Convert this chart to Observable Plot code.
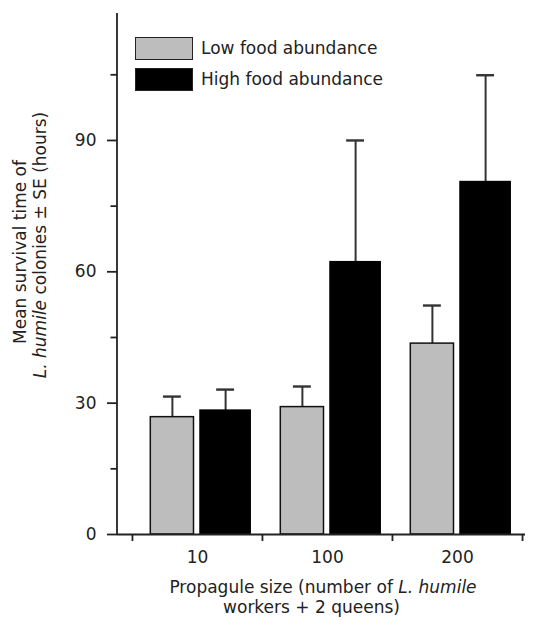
<!DOCTYPE html>
<html><head><meta charset="utf-8">
<script src="https://cdn.jsdelivr.net/npm/d3@7"></script>
<script src="https://cdn.jsdelivr.net/npm/@observablehq/plot@0.6"></script>
<style>
body{margin:0;background:#fff;}
#wrap{position:relative;width:533px;height:621px;font-family:"DejaVu Sans",sans-serif;color:#222;}
.t{position:absolute;white-space:nowrap;font-size:17px;line-height:1;}
.sw{position:absolute;box-sizing:border-box;}
</style></head><body><div id="wrap"></div>
<script>
// ---- data ----
const sizes = ["10", "100", "200"];
const foods = ["Low food abundance", "High food abundance"];
const lowMean = [26.8, 29.1, 43.6];
const lowSE = [4.7, 4.7, 8.7];
const highMean = [28.3, 62.2, 80.5];
const highSE = [4.8, 27.8, 24.4];
const colors = ["#bdbdbd", "#000000"];
const yMajorTicks = [0, 30, 60, 90];
const yMinorTicks = [15, 45, 75, 105];
const yDomain = [0, 119];

const rows = [];
sizes.forEach((s, i) => {
  rows.push({size: s, food: foods[0], mean: lowMean[i], se: lowSE[i]});
  rows.push({size: s, food: foods[1], mean: highMean[i], se: highSE[i]});
});

// ---- layout ----
const W = 533, H = 621, mL = 117, mT = 13, mR = 8, mB = 87;
const xRange = [131.7, 522];
const bw = (xRange[1] - xRange[0]) / sizes.length;
// bar placement inside each category band: [left inset, right inset]
const barInsets = [[18.3, 68.5], [68, 11.8]];
const capHalf = 9;
const ink = "#222";
const fs = 17;
const base = 0.846 * fs; // baseline offset from top of a line-height:1 box

const marks = [];
foods.forEach((f, k) => {
  const data = rows.filter(d => d.food === f);
  const [il, ir] = barInsets[k];
  const center = (il + (bw - ir)) / 2;
  marks.push(Plot.ruleX(data, {x: "size", y1: "mean", y2: d => d.mean + d.se, dx: center - bw / 2, stroke: "#333", strokeWidth: 2}));
  marks.push(Plot.tickY(data, {x: "size", y: d => d.mean + d.se, insetLeft: center - capHalf, insetRight: bw - center - capHalf, stroke: "#333", strokeWidth: 2.4}));
  marks.push(Plot.barY(data, {x: "size", y: "mean", fill: colors[k], stroke: k === 0 ? "#111" : colors[k], strokeWidth: 1.5, insetLeft: il, insetRight: ir}));
});

// x axis line + ticks at category boundaries
marks.push(Plot.ruleY([0], {stroke: ink, strokeWidth: 1.8}));
marks.push(Plot.ruleX(sizes, {x: d => d, dx: -bw / 2, insetTop: H - mB - mT, insetBottom: -7, stroke: ink, strokeWidth: 1.8}));
marks.push(Plot.ruleX([sizes[sizes.length - 1]], {x: d => d, dx: bw / 2, insetTop: H - mB - mT, insetBottom: -7, stroke: ink, strokeWidth: 1.8}));
marks.push(Plot.axisX({tickSize: 0, tickPadding: 16, label: null, fill: ink}));
marks.push(Plot.axisY(yMajorTicks, {tickSize: 10, tickPadding: 11, label: null, stroke: ink, strokeWidth: 1.8, fill: ink}));
marks.push(Plot.axisY(yMinorTicks, {tickSize: 6.5, tickFormat: () => "", label: null, stroke: ink, strokeWidth: 1.8}));

const chart = Plot.plot({
  width: W, height: H,
  marginLeft: mL, marginTop: mT, marginRight: mR, marginBottom: mB,
  style: {fontFamily: "DejaVu Sans, sans-serif", fontSize: fs + "px", color: ink, background: "#fff"},
  x: {type: "band", domain: sizes, range: xRange, padding: 0},
  y: {domain: yDomain},
  marks
});

// y axis line along the frame's left edge
const ys = chart.scale("y");
d3.select(chart).append("line")
  .attr("x1", mL).attr("x2", mL)
  .attr("y1", ys.apply(yDomain[1])).attr("y2", ys.apply(0))
  .attr("stroke", ink).attr("stroke-width", 1.8);

const wrap = document.getElementById("wrap");
chart.style.position = "absolute";
chart.style.left = "0"; chart.style.top = "0";
wrap.appendChild(chart);

// ---- legend ----
const legendTop = [36.7, 68.3];
const legendBaseline = [54, 85];
foods.forEach((f, k) => {
  const sw = document.createElement("div");
  sw.className = "sw";
  Object.assign(sw.style, {left: "135px", top: legendTop[k] + "px", width: "58px", height: "23px",
    background: colors[k], border: "1.5px solid #222"});
  wrap.appendChild(sw);
  const t = document.createElement("div");
  t.className = "t";
  t.textContent = f;
  Object.assign(t.style, {left: "201px", top: (legendBaseline[k] - base) + "px"});
  wrap.appendChild(t);
});

// ---- axis titles ----
function addText(html, left, top, transform) {
  const t = document.createElement("div");
  t.className = "t";
  t.innerHTML = html;
  Object.assign(t.style, {left: left + "px", top: top + "px", transform, transformOrigin: "0 0"});
  wrap.appendChild(t);
}
addText("Propagule size (number of <i>L. humile</i>", 323, 593 - base, "translateX(-50%)");
addText("workers + 2 queens)", 311.5, 613 - base, "translateX(-50%)");
addText("Mean survival time of", 26, 252, `rotate(-90deg) translate(-50%, -${base}px)`);
addText("<i>L. humile</i> colonies ± SE (hours)", 46, 245, `rotate(-90deg) translate(-50%, -${base}px)`);
</script></body></html>
